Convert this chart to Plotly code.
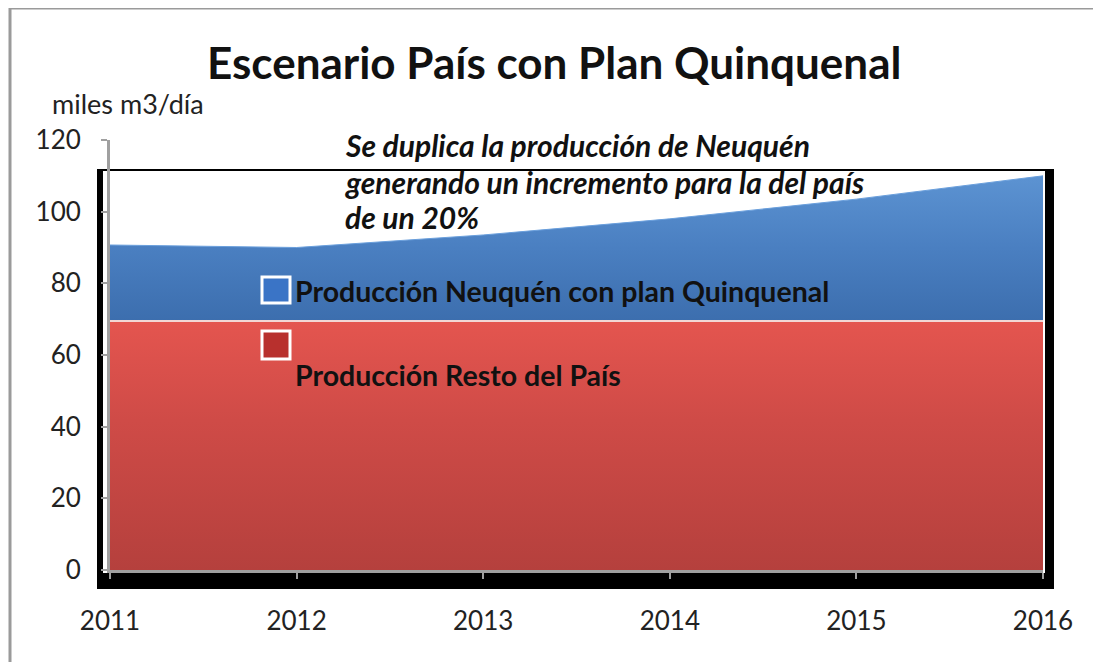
import plotly.graph_objects as go

# ---- data ----
years = [2011, 2012, 2013, 2014, 2015, 2016]
resto_pais = [69.5, 69.5, 69.5, 69.5, 69.5, 69.5]
neuquen_plan = [21.2, 20.5, 24.0, 28.5, 34.0, 40.5]
y_ticks = [0, 20, 40, 60, 80, 100, 120]

title_text = "Escenario País con Plan Quinquenal"
y_unit = "miles m3/día"
note_lines = ["Se duplica la producción de Neuquén",
              "generando un incremento para la del país",
              "de un 20%"]
label_neuquen = "Producción Neuquén con plan Quinquenal"
label_resto = "Producción Resto del País"

FONT = "Lato, 'Open Sans', sans-serif"

# page has an 8px body margin: figure coords = page coords - 8
OFF = 8
W, H = 1101 - OFF, 662 - OFF
L, T = 110 - OFF, 140 - OFF
R = W - (1043 - OFF)
B = H - (570 - OFF)
PW, PH = W - L - R, H - T - B


def px(x):
    return (x - OFF - L) / PW


def py(y):
    return (H - B - (y - OFF)) / PH


fig = go.Figure()

fig.add_trace(go.Scatter(
    x=years, y=resto_pais, name=label_resto, stackgroup="one",
    mode="lines", line=dict(color="#f2d6d4", width=2),
    fillgradient=dict(type="vertical", start=0, stop=max(resto_pais),
                      colorscale=[[0, "#b5403d"], [0.6, "#cf4b47"], [1, "#e4554f"]]),
    showlegend=False, hoverinfo="skip"))

fig.add_trace(go.Scatter(
    x=years, y=neuquen_plan, name=label_neuquen, stackgroup="one",
    mode="lines", line=dict(color="#6a9fdc", width=1),
    fillgradient=dict(type="vertical", start=min(resto_pais),
                      stop=max(r + n for r, n in zip(resto_pais, neuquen_plan)),
                      colorscale=[[0, "#3c6eae"], [0.5, "#4a7fc1"], [1, "#5c93d2"]]),
    showlegend=False, hoverinfo="skip"))

shapes = [
    # black 3D frame behind plot
    dict(type="rect", xref="paper", yref="paper", layer="below",
         x0=px(97), x1=px(1054), y0=py(589), y1=py(169),
         fillcolor="black", line=dict(width=0)),
    dict(type="rect", xref="paper", yref="paper", layer="below",
         x0=px(103), x1=px(1045), y0=py(573), y1=py(171),
         fillcolor="white", line=dict(width=0)),
    # outer gray border (left and top)
    dict(type="line", xref="paper", yref="paper",
         x0=px(10), x1=px(10), y0=py(8), y1=py(680),
         line=dict(color="#9a9a9a", width=3)),
    dict(type="line", xref="paper", yref="paper",
         x0=px(10), x1=px(1120), y0=py(8), y1=py(8),
         line=dict(color="#9a9a9a", width=3)),
    # legend-like markers
    dict(type="rect", xref="paper", yref="paper",
         x0=px(262), x1=px(290), y0=py(303), y1=py(277),
         fillcolor="#3a74c6", line=dict(color="white", width=3)),
    dict(type="rect", xref="paper", yref="paper",
         x0=px(262), x1=px(290), y0=py(359), y1=py(331),
         fillcolor="#b8302d", line=dict(color="white", width=3)),
]

annotations = [
    dict(text=f"<b>{title_text}</b>", xref="paper", yref="paper",
         x=px(554), y=py(62), xanchor="center", yanchor="middle",
         showarrow=False, font=dict(family=FONT, size=44, color="#111")),
    dict(text=y_unit, xref="paper", yref="paper",
         x=px(50), y=py(103), xanchor="left", yanchor="middle",
         showarrow=False, font=dict(family=FONT, size=27, color="#222")),
    dict(text=f"<b>{label_neuquen}</b>", xref="paper", yref="paper",
         x=px(293), y=py(291), xanchor="left", yanchor="middle",
         showarrow=False, font=dict(family=FONT, size=28.5, color="#111")),
    dict(text=f"<b>{label_resto}</b>", xref="paper", yref="paper",
         x=px(293), y=py(375), xanchor="left", yanchor="middle",
         showarrow=False, font=dict(family=FONT, size=28.5, color="#111")),
]
for line_txt, yc in zip(note_lines, [145, 182, 217]):
    annotations.append(dict(
        text=f"<b><i>{line_txt}</i></b>", xref="paper", yref="paper",
        x=px(343), y=py(yc), xanchor="left", yanchor="middle",
        showarrow=False, font=dict(family=FONT, size=30, color="#111")))

fig.update_layout(
    width=W, height=H,
    margin=dict(l=L, r=R, t=T, b=B),
    paper_bgcolor="white", plot_bgcolor="rgba(0,0,0,0)",
    shapes=shapes, annotations=annotations,
    xaxis=dict(range=[2011, 2016], tickvals=years, ticktext=[str(y) for y in years],
               showgrid=False, zeroline=False, showline=True,
               linecolor="#a0a0a0", linewidth=3, ticks="outside", ticklen=6,
               tickwidth=2, tickcolor="#a0a0a0", ticklabelstandoff=20,
               tickfont=dict(family=FONT, size=26, color="#222")),
    yaxis=dict(range=[0, 120], tickvals=y_ticks, showgrid=False, zeroline=False,
               showline=True, linecolor="#a0a0a0", linewidth=3, ticks="outside",
               ticklen=6, tickwidth=2, tickcolor="#a0a0a0", ticklabelstandoff=15,
               tickfont=dict(family=FONT, size=26, color="#222")),
)

fig.write_html("out.html")
